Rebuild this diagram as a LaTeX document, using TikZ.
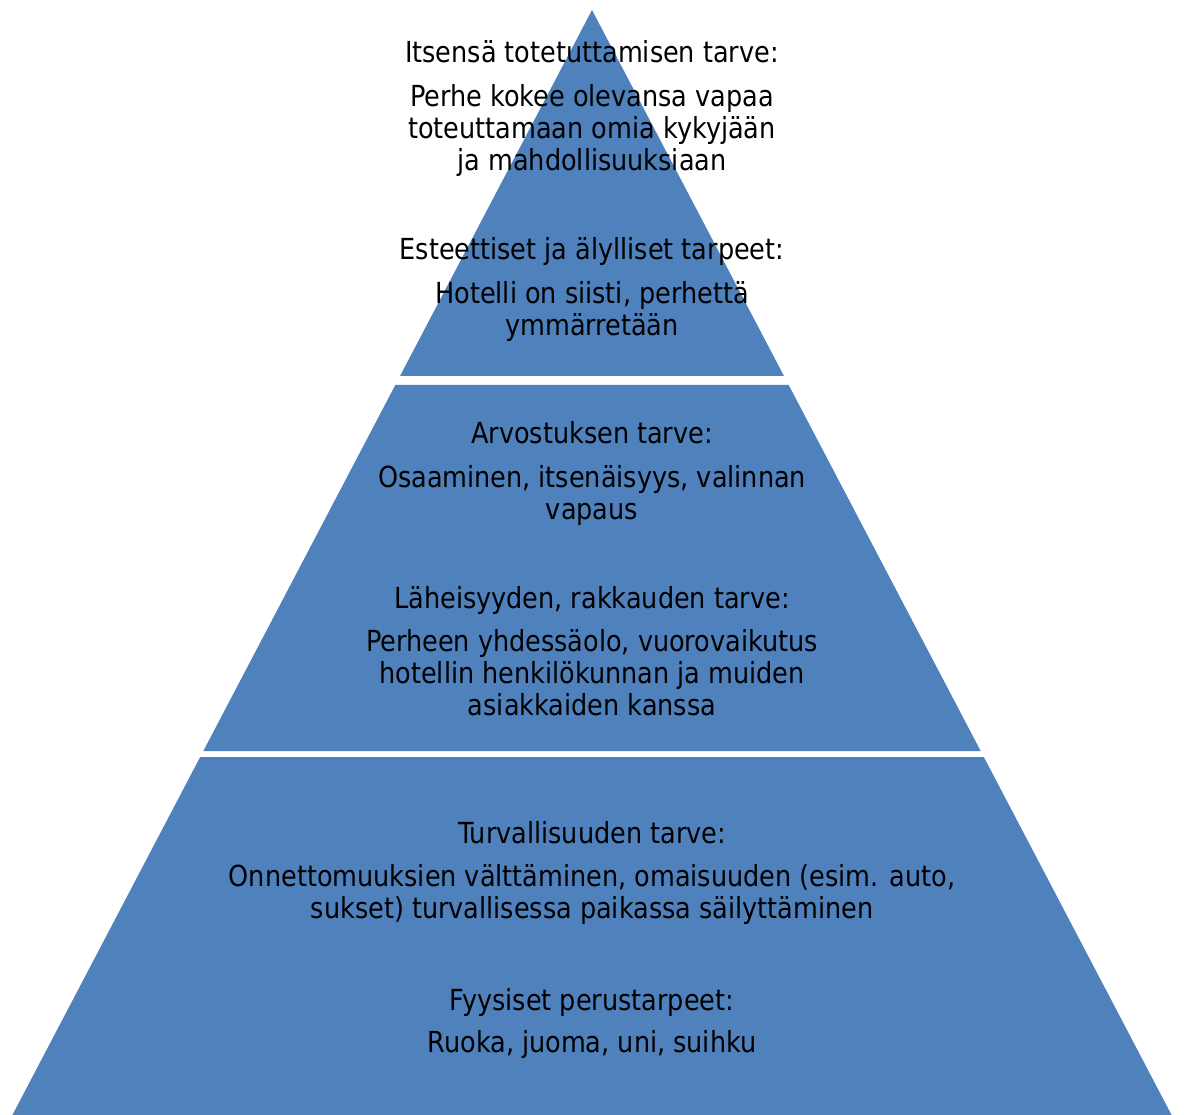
\documentclass[tikz,border=0pt]{standalone}
\usepackage{fontspec}
\setmainfont{DejaVu Sans}[FakeStretch=0.88]
\definecolor{tierblue}{HTML}{4F81BD}
\begin{document}
\begin{tikzpicture}[x=1pt,y=-1pt,
  tier/.style={fill=tierblue,draw=none},
  lbl/.style={anchor=base,inner sep=0pt,font=\fontsize{29}{32}\selectfont,text=black}]
\useasboundingbox (0,0) rectangle (1184,1115);
\pgfmathsetmacro{\k}{0.5245}
\def\ax{592}\def\ay{10}
% tiers
\path[tier] (\ax,\ay) -- ({\ax+\k*(376-\ay)},376) -- ({\ax-\k*(376-\ay)},376) -- cycle;
\path[tier] ({\ax-\k*(385-\ay)},385) -- ({\ax+\k*(385-\ay)},385) -- ({\ax+\k*(751-\ay)},751) -- ({\ax-\k*(751-\ay)},751) -- cycle;
\path[tier] ({\ax-\k*(757-\ay)},757) -- ({\ax+\k*(757-\ay)},757) -- ({\ax+\k*(1115-\ay)},1115) -- ({\ax-\k*(1115-\ay)},1115) -- cycle;
% texts
\node[lbl] (t1) at (592,63) {Itsensä totetuttamisen tarve:};
\node[lbl] (b1a) at (592,107) {Perhe kokee olevansa vapaa};
\node[lbl] (b1b) at (592,139) {toteuttamaan omia kykyjään};
\node[lbl] (b1c) at (592,171) {ja mahdollisuuksiaan};
\node[lbl] (t2) at (592,260) {Esteettiset ja älylliset tarpeet:};
\node[lbl] (b2a) at (592,304) {Hotelli on siisti, perhettä};
\node[lbl] (b2b) at (592,336) {ymmärretään};
\node[lbl] (t3) at (592,443) {Arvostuksen tarve:};
\node[lbl] (b3a) at (592,487) {Osaaminen, itsenäisyys, valinnan};
\node[lbl] (b3b) at (592,519) {vapaus};
\node[lbl] (t4) at (592,608) {Läheisyyden, rakkauden tarve:};
\node[lbl] (b4a) at (592,651) {Perheen yhdessäolo, vuorovaikutus};
\node[lbl] (b4b) at (592,683) {hotellin henkilökunnan ja muiden};
\node[lbl] (b4c) at (592,715) {asiakkaiden kanssa};
\node[lbl] (t5) at (592,843) {Turvallisuuden tarve:};
\node[lbl] (b5a) at (592,886) {Onnettomuuksien välttäminen, omaisuuden (esim. auto,};
\node[lbl] (b5b) at (592,918) {sukset) turvallisessa paikassa säilyttäminen};
\node[lbl] (t6) at (592,1010) {Fyysiset perustarpeet:};
\node[lbl] (b6a) at (592,1052) {Ruoka, juoma, uni, suihku};
\end{tikzpicture}
\end{document}
